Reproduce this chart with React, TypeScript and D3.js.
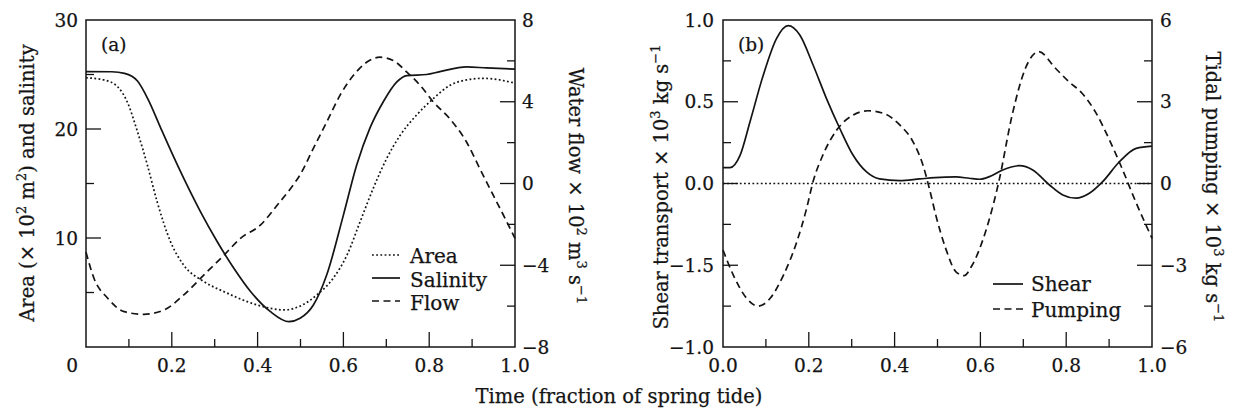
import React from 'react';
import * as d3 from 'd3';

// ---------- Data ----------
const salinityT = [0, 0.06, 0.09, 0.12, 0.145, 0.174, 0.213, 0.267, 0.306, 0.345, 0.384, 0.43, 0.473, 0.499, 0.53, 0.561, 0.6, 0.631, 0.662, 0.693, 0.724, 0.748, 0.794, 0.825, 0.887, 0.934, 1.0];
const salinityV = [25.26, 25.25, 25.1, 24.4, 22.7, 20.1, 16.7, 12.4, 9.66, 7.2, 5.07, 3.24, 2.32, 2.63, 3.85, 6.6, 12.1, 16.7, 20.1, 22.5, 24.3, 24.9, 25.0, 25.26, 25.7, 25.6, 25.5];

const areaT = [0, 0.042, 0.073, 0.096, 0.12, 0.143, 0.166, 0.197, 0.228, 0.275, 0.322, 0.376, 0.43, 0.462, 0.499, 0.538, 0.576, 0.608, 0.639, 0.67, 0.701, 0.732, 0.771, 0.81, 0.848, 0.887, 0.926, 0.965, 1.0];
const areaV = [24.7, 24.5, 23.9, 22.5, 19.75, 16.7, 13.3, 9.66, 7.5, 6.0, 5.07, 4.16, 3.55, 3.4, 3.75, 4.77, 6.3, 8.4, 11.5, 14.6, 17.3, 19.4, 21.3, 22.8, 24.0, 24.5, 24.65, 24.5, 24.2];

const flowT = [0, 0.019, 0.05, 0.089, 0.135, 0.182, 0.228, 0.275, 0.322, 0.36, 0.407, 0.446, 0.477, 0.499, 0.53, 0.561, 0.592, 0.623, 0.654, 0.685, 0.716, 0.748, 0.779, 0.81, 0.848, 0.887, 0.918, 0.949, 0.977, 1.0];
const flowV = [-3.36, -4.66, -5.6, -6.27, -6.4, -6.19, -5.45, -4.47, -3.5, -2.68, -2.03, -1.05, -0.24, 0.42, 1.72, 3.0, 4.31, 5.28, 5.93, 6.18, 6.02, 5.45, 4.8, 3.98, 3.17, 2.03, 0.73, -0.56, -1.71, -2.68];

const shearT = [0, 0.016, 0.04, 0.063, 0.094, 0.125, 0.152, 0.179, 0.21, 0.241, 0.272, 0.303, 0.334, 0.365, 0.412, 0.459, 0.494, 0.543, 0.574, 0.598, 0.621, 0.652, 0.691, 0.722, 0.761, 0.792, 0.823, 0.854, 0.885, 0.924, 0.963, 1.0];
const shearV = [0.097, 0.097, 0.174, 0.378, 0.664, 0.888, 0.965, 0.908, 0.725, 0.521, 0.338, 0.174, 0.072, 0.028, 0.017, 0.028, 0.036, 0.04, 0.032, 0.026, 0.042, 0.083, 0.109, 0.083, -0.009, -0.07, -0.09, -0.06, 0.011, 0.133, 0.215, 0.229];

const pumpingT = [0, 0.024, 0.055, 0.082, 0.11, 0.141, 0.172, 0.195, 0.21, 0.233, 0.265, 0.303, 0.338, 0.373, 0.412, 0.443, 0.466, 0.481, 0.496, 0.519, 0.543, 0.562, 0.581, 0.612, 0.643, 0.674, 0.705, 0.736, 0.775, 0.806, 0.837, 0.868, 0.899, 0.93, 0.962, 1.0];
const pumpingV = [-2.44, -3.36, -4.21, -4.5, -4.21, -3.36, -2.14, -0.91, 0.07, 1.05, 1.96, 2.51, 2.67, 2.58, 2.15, 1.53, 0.68, -0.18, -1.16, -2.38, -3.24, -3.38, -2.99, -1.77, 0.07, 2.51, 4.23, 4.84, 4.23, 3.74, 3.31, 2.63, 1.66, 0.56, -0.67, -2.01];

// Ticks
const xMajor = [0.2, 0.4, 0.6, 0.8];
const xMinor = [0.1, 0.3, 0.5, 0.7, 0.9];
const xLabelsA = ['0.2', '0.4', '0.6', '0.8', '1.0'];
const xLabelValsA = [0.2, 0.4, 0.6, 0.8, 1.0];
const xLabelsB = ['0.0', '0.2', '0.4', '0.6', '0.8', '1.0'];
const xLabelValsB = [0, 0.2, 0.4, 0.6, 0.8, 1.0];

const aLeftVals = [30, 20, 10];
const aLeftLabels = ['30', '20', '10'];
const aLeftMajor = [10, 20];
const aLeftMinor = [5, 15, 25];
const aRightVals = [8, 4, 0, -4, -8];
const aRightLabels = ['8', '4', '0', '\u22124', '\u22128'];
const aRightMajor = [-4, 0, 4];
const aRightMinor = [-6, -2, 2, 6];

const bLeftVals = [1, 0.5, 0, -0.5, -1];
const bLeftLabels = ['1.0', '0.5', '0.0', '\u22121.5', '\u22121.0'];
const bLeftMajor = [-0.5, 0, 0.5];
const bLeftMinor = [-0.75, -0.25, 0.25, 0.75];
const bRightVals = [6, 3, 0, -3, -6];
const bRightLabels = ['6', '3', '0', '\u22123', '\u22126'];
const bRightMajor = [-3, 0, 3];
const bRightMinor = [-4.5, -1.5, 1.5, 4.5];

const FONT = 'DejaVu Serif';
const INK = '#141414';
const DASH = '7,4.5';
const DOT = '1.8,2.4';

const TOP = 20, BOT = 347;
const A_L = 86, A_R = 515;
const B_L = 723, B_R = 1152;

const MAJ = 15, MIN = 8;

export default function App() {
  const xa = d3.scaleLinear().domain([0, 1]).range([A_L, A_R]);
  const xb = d3.scaleLinear().domain([0, 1]).range([B_L, B_R]);
  const yaL = d3.scaleLinear().domain([0, 30]).range([BOT, TOP]);
  const yaR = d3.scaleLinear().domain([-8, 8]).range([BOT, TOP]);
  const ybL = d3.scaleLinear().domain([-1, 1]).range([BOT, TOP]);
  const ybR = d3.scaleLinear().domain([-6, 6]).range([BOT, TOP]);

  const mk = (xs: d3.ScaleLinear<number, number>, ys: d3.ScaleLinear<number, number>, T: number[], V: number[]) =>
    d3.line<number>().x((_, i) => xs(T[i])).y((d) => ys(d)).curve(d3.curveMonotoneX)(V) || '';

  const lineProps = { fill: 'none', stroke: INK, strokeWidth: 1.7 };

  const xTicks = (xs: d3.ScaleLinear<number, number>) => (
    <g stroke={INK} strokeWidth={1.3}>
      {xMajor.map((v) => <line key={'M' + v} x1={xs(v)} x2={xs(v)} y1={BOT} y2={BOT - MAJ} />)}
      {xMinor.map((v) => <line key={'m' + v} x1={xs(v)} x2={xs(v)} y1={BOT} y2={BOT - MIN} />)}
    </g>
  );

  const yTicks = (ys: d3.ScaleLinear<number, number>, x0: number, dir: number, major: number[], minor: number[]) => (
    <g stroke={INK} strokeWidth={1.3}>
      {major.map((v) => <line key={'M' + v} x1={x0} x2={x0 + dir * MAJ} y1={ys(v)} y2={ys(v)} />)}
      {minor.map((v) => <line key={'m' + v} x1={x0} x2={x0 + dir * MIN} y1={ys(v)} y2={ys(v)} />)}
    </g>
  );

  const tick = { fontFamily: FONT, fontSize: 18.5, fill: INK, stroke: INK, strokeWidth: 0.25 };
  const title = { fontFamily: FONT, fontSize: 19.5, fill: INK, stroke: INK, strokeWidth: 0.25 };
  const leg = { fontFamily: FONT, fontSize: 20, fill: INK, stroke: INK, strokeWidth: 0.25 };
  const SUP = 13;
  const SH = 8;

  return (
    <svg width={1236} height={413} style={{ position: 'absolute', left: 0, top: 0, background: '#fff' }}>
      <rect x={0} y={0} width={1236} height={413} fill="#fff" />

      {/* ---------- Panel (a) ---------- */}
      <rect x={A_L} y={TOP} width={A_R - A_L} height={BOT - TOP} fill="none" stroke={INK} strokeWidth={1.5} />
      {xTicks(xa)}
      {yTicks(yaL, A_L, 1, aLeftMajor, aLeftMinor)}
      {yTicks(yaR, A_R, -1, aRightMajor, aRightMinor)}

      <path d={mk(xa, yaL, areaT, areaV)} {...lineProps} strokeDasharray={DOT} />
      <path d={mk(xa, yaL, salinityT, salinityV)} {...lineProps} />
      <path d={mk(xa, yaR, flowT, flowV)} {...lineProps} strokeDasharray={DASH} />

      {aLeftVals.map((v, i) => (
        <text key={'al' + v} x={A_L - 8} y={yaL(v)} dy="0.36em" textAnchor="end" {...tick}>{aLeftLabels[i]}</text>
      ))}
      <text x={A_L - 8} y={372} textAnchor="end" {...tick}>0</text>
      {aRightVals.map((v, i) => (
        <text key={'ar' + v} x={A_R + 7} y={yaR(v)} dy="0.36em" textAnchor="start" {...tick}>{aRightLabels[i]}</text>
      ))}
      {xLabelValsA.map((v, i) => (
        <text key={'xa' + v} x={xa(v)} y={372} textAnchor="middle" {...tick}>{xLabelsA[i]}</text>
      ))}
      <text x={101} y={51} {...tick}>(a)</text>

      {/* legend a */}
      <g>
        <line x1={372} x2={400} y1={255} y2={255} {...lineProps} strokeDasharray={DOT} />
        <line x1={372} x2={400} y1={278} y2={278} {...lineProps} />
        <line x1={372} x2={400} y1={301} y2={301} {...lineProps} strokeDasharray={DASH} />
        <text x={410} y={263} {...leg}>Area</text>
        <text x={410} y={287} {...leg}>Salinity</text>
        <text x={410} y={310} {...leg}>Flow</text>
      </g>

      <text transform="translate(34,183) rotate(-90)" textAnchor="middle" {...title}>
        Area (× 10<tspan dy={-SH} fontSize={SUP}>2</tspan><tspan dy={SH}> m</tspan><tspan dy={-SH} fontSize={SUP}>2</tspan><tspan dy={SH}>) and salinity</tspan>
      </text>
      <text transform="translate(569,186) rotate(90)" textAnchor="middle" {...title}>
        Water flow × 10<tspan dy={-SH} fontSize={SUP}>2</tspan><tspan dy={SH}> m</tspan><tspan dy={-SH} fontSize={SUP}>3</tspan><tspan dy={SH}> s</tspan><tspan dy={-SH} fontSize={SUP}>−1</tspan>
      </text>

      {/* ---------- Panel (b) ---------- */}
      <rect x={B_L} y={TOP} width={B_R - B_L} height={BOT - TOP} fill="none" stroke={INK} strokeWidth={1.5} />
      {xTicks(xb)}
      {yTicks(ybL, B_L, 1, bLeftMajor, bLeftMinor)}
      {yTicks(ybR, B_R, -1, bRightMajor, bRightMinor)}

      <line x1={B_L} x2={B_R} y1={ybL(0)} y2={ybL(0)} {...lineProps} strokeDasharray={DOT} />
      <path d={mk(xb, ybL, shearT, shearV)} {...lineProps} />
      <path d={mk(xb, ybR, pumpingT, pumpingV)} {...lineProps} strokeDasharray={DASH} />

      {bLeftVals.map((v, i) => (
        <text key={'bl' + v} x={B_L - 9} y={ybL(v)} dy="0.36em" textAnchor="end" {...tick}>{bLeftLabels[i]}</text>
      ))}
      {bRightVals.map((v, i) => (
        <text key={'br' + v} x={B_R + 8} y={ybR(v)} dy="0.36em" textAnchor="start" {...tick}>{bRightLabels[i]}</text>
      ))}
      {xLabelValsB.map((v, i) => (
        <text key={'xb' + v} x={xb(v)} y={372} textAnchor="middle" {...tick}>{xLabelsB[i]}</text>
      ))}
      <text x={738} y={51} {...tick}>(b)</text>

      {/* legend b */}
      <g>
        <line x1={993} x2={1023} y1={284} y2={284} {...lineProps} />
        <line x1={993} x2={1023} y1={309} y2={309} {...lineProps} strokeDasharray={DASH} />
        <text x={1031} y={291} {...leg}>Shear</text>
        <text x={1031} y={317} {...leg}>Pumping</text>
      </g>

      <text transform="translate(668,187) rotate(-90)" textAnchor="middle" {...title}>
        Shear transport × 10<tspan dy={-SH} fontSize={SUP}>3</tspan><tspan dy={SH}> kg s</tspan><tspan dy={-SH} fontSize={SUP}>−1</tspan>
      </text>
      <text transform="translate(1206,187) rotate(90)" textAnchor="middle" {...title}>
        Tidal pumping × 10<tspan dy={-SH} fontSize={SUP}>3</tspan><tspan dy={SH}> kg s</tspan><tspan dy={-SH} fontSize={SUP}>−1</tspan>
      </text>

      <text x={619} y={403} textAnchor="middle" {...title}>Time (fraction of spring tide)</text>
    </svg>
  );
}
